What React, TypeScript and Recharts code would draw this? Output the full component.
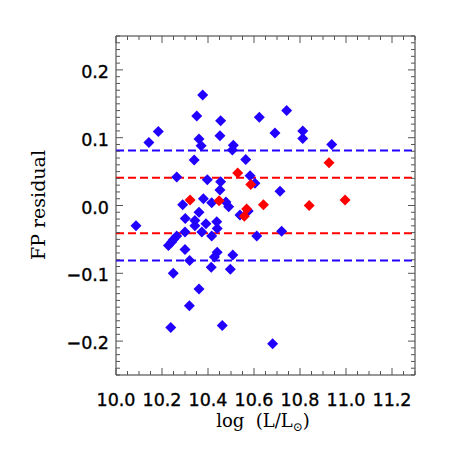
import { ScatterChart, Scatter, XAxis, YAxis, ReferenceLine, ReferenceArea, Label } from 'recharts';

// blue sample (log L, FP residual)
const blueX = [
  10.377, 10.351, 10.455, 10.623, 10.184, 10.143, 10.361, 10.370, 10.452, 10.510,
  10.506, 10.340, 10.564, 10.264, 10.397, 10.583, 10.604, 10.455, 10.452, 10.380,
  10.290, 10.416, 10.478, 10.490, 10.361, 10.301, 10.343, 10.391, 10.438, 10.087,
  10.539, 10.575, 10.343, 10.440, 10.373, 10.300, 10.416, 10.264, 10.250, 10.242,
  10.228, 10.300, 10.440, 10.428, 10.508, 10.320, 10.414, 10.497, 10.249, 10.361,
  10.319, 10.238, 10.462, 10.681, 10.612, 10.742, 10.691, 10.812, 10.812, 10.938,
  10.713, 10.720,
];
const blueY = [
  0.163, 0.132, 0.125, 0.130, 0.109, 0.093, 0.098, 0.088, 0.103, 0.089,
  0.082, 0.067, 0.068, 0.042, 0.038, 0.044, 0.033, 0.035, 0.023, 0.010,
  0.001, 0.004, 0.005, -0.002, -0.010, -0.019, -0.022, -0.027, -0.024, -0.030,
  -0.014, -0.008, -0.030, -0.034, -0.039, -0.039, -0.045, -0.045, -0.050, -0.054,
  -0.059, -0.065, -0.069, -0.076, -0.073, -0.081, -0.091, -0.094, -0.100, -0.123,
  -0.148, -0.180, -0.177, -0.204, -0.045, 0.140, 0.107, 0.110, 0.099, 0.090,
  0.021, -0.038,
];

// red sample
const redX = [10.322, 10.448, 10.529, 10.586, 10.641, 10.568, 10.558, 10.926, 10.840, 10.996];
const redY = [0.008, 0.007, 0.048, 0.031, 0.001, -0.005, -0.016, 0.063, 0.000, 0.008];

const blueLimits = [0.081, -0.081];
const redLimits = [0.041, -0.041];

const xMajorTicks = [10.0, 10.2, 10.4, 10.6, 10.8, 11.0, 11.2];
const xTickLabels = ['10.0', '10.2', '10.4', '10.6', '10.8', '11.0', '11.2'];
const yMajorTicks = [-0.2, -0.1, 0, 0.1, 0.2];
const yTickLabels = ['\u22120.2', '\u22120.1', '0.0', '0.1', '0.2'];

const BLUE = '#2200ff';
const RED = '#ff0000';
const FRAME = '#333';
const TICK_COLOR = '#555';
const TICK_FONT = { fontFamily: 'DejaVu Sans', fontSize: 17.5, stroke: '#000', strokeWidth: 0.35 };

const PLOT_LEFT = 116;
const PLOT_RIGHT = 415;
const PLOT_TOP = 36;
const PLOT_BOTTOM = 375;

const blueData = blueX.map((x, i) => ({ x, y: blueY[i] }));
const redData = redX.map((x, i) => ({ x, y: redY[i] }));

// minor ticks every 0.05 in x and 0.01 in y
const xTicks: number[] = [];
for (let i = 0; i <= 26; i++) xTicks.push(Math.round((10 + i * 0.05) * 100) / 100);
const yTicks: number[] = [];
for (let i = -25; i <= 25; i++) yTicks.push(i / 100);

const findMajor = (ticks: number[], v: number) => ticks.findIndex((t) => Math.abs(t - v) < 1e-6);

const XTick = ({ x, payload }: any) => {
  const idx = findMajor(xMajorTicks, payload.value);
  const len = idx >= 0 ? 7 : 4;
  return (
    <g>
      <line x1={x} x2={x} y1={PLOT_BOTTOM} y2={PLOT_BOTTOM - len} stroke={TICK_COLOR} />
      <line x1={x} x2={x} y1={PLOT_TOP} y2={PLOT_TOP + len} stroke={TICK_COLOR} />
      {idx >= 0 && (
        <text x={x} y={PLOT_BOTTOM + 31} textAnchor="middle" {...TICK_FONT} fill="#000">
          {xTickLabels[idx]}
        </text>
      )}
    </g>
  );
};

const YTick = ({ y, payload }: any) => {
  const idx = findMajor(yMajorTicks, payload.value);
  const len = idx >= 0 ? 7 : 4;
  return (
    <g>
      <line x1={PLOT_LEFT} x2={PLOT_LEFT + len} y1={y} y2={y} stroke={TICK_COLOR} />
      <line x1={PLOT_RIGHT} x2={PLOT_RIGHT - len} y1={y} y2={y} stroke={TICK_COLOR} />
      {idx >= 0 && (
        <text x={PLOT_LEFT - 7} y={y + 8} textAnchor="end" {...TICK_FONT} fill="#000">
          {yTickLabels[idx]}
        </text>
      )}
    </g>
  );
};

const Diamond = ({ cx, cy, fill }: any) => {
  const r = 5.5;
  return <polygon points={`${cx},${cy - r} ${cx + r},${cy} ${cx},${cy + r} ${cx - r},${cy}`} fill={fill} />;
};

export default function App() {
  return (
    <div>
      <style>{'body{margin:0}'}</style>
      <ScatterChart width={450} height={450} margin={{ top: PLOT_TOP, right: 450 - PLOT_RIGHT, bottom: 0, left: 0 }}>
        <XAxis
          dataKey="x"
          type="number"
          domain={[10, 11.3]}
          ticks={xTicks}
          interval={0}
          height={450 - PLOT_BOTTOM}
          axisLine={false}
          tickLine={false}
          tickSize={0}
          tickMargin={0}
          tick={<XTick />}
          allowDataOverflow
        >
          <Label
            content={() => (
              <text x={263} y={427} textAnchor="middle" fontFamily="DejaVu Serif" fontSize={18} fill="#000">
                {'log\u00a0\u00a0(L/L'}
                <tspan fontSize={12} dy={4}>{'\u2299'}</tspan>
                <tspan dy={-4}>)</tspan>
              </text>
            )}
          />
        </XAxis>
        <YAxis
          dataKey="y"
          type="number"
          domain={[-0.25, 0.25]}
          ticks={yTicks}
          interval={0}
          width={PLOT_LEFT}
          axisLine={false}
          tickLine={false}
          tickSize={0}
          tickMargin={0}
          tick={<YTick />}
          allowDataOverflow
        >
          <Label
            content={() => (
              <text
                x={45}
                y={205}
                transform="rotate(-90 45 205)"
                textAnchor="middle"
                fontFamily="DejaVu Serif"
                fontSize={19}
                fill="#000"
              >
                FP residual
              </text>
            )}
          />
        </YAxis>
        <ReferenceArea x1={10} x2={11.3} y1={-0.25} y2={0.25} fill="none" fillOpacity={0} stroke={FRAME} strokeWidth={1} />
        {blueLimits.map((v) => (
          <ReferenceLine key={`b${v}`} y={v} stroke={BLUE} strokeDasharray="8 4" strokeWidth={2} />
        ))}
        {redLimits.map((v) => (
          <ReferenceLine key={`r${v}`} y={v} stroke={RED} strokeDasharray="8 4" strokeWidth={2} />
        ))}
        <Scatter data={blueData} fill={BLUE} shape={<Diamond />} isAnimationActive={false} />
        <Scatter data={redData} fill={RED} shape={<Diamond />} isAnimationActive={false} />
      </ScatterChart>
    </div>
  );
}
